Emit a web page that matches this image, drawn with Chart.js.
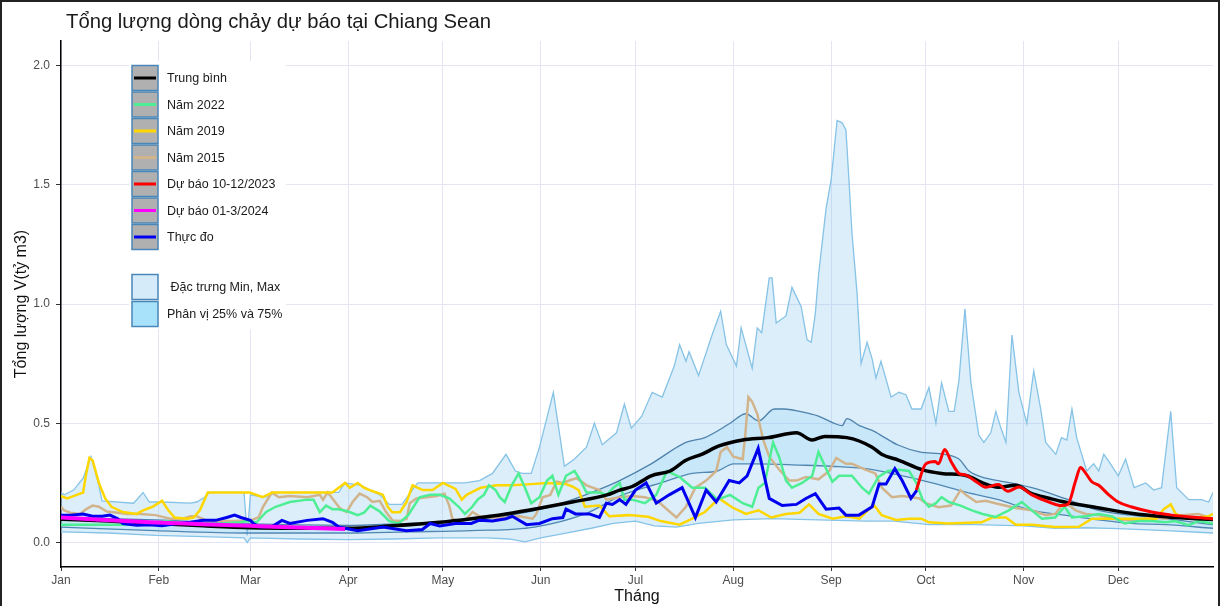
<!DOCTYPE html>
<html>
<head>
<meta charset="utf-8">
<title>Tổng lượng dòng chảy dự báo tại Chiang Sean</title>
<script src="https://cdn.jsdelivr.net/npm/chart.js@4.4.0/dist/chart.umd.min.js"></script>
<style>
    html, body { margin: 0; padding: 0; background: #fff; }
    #wrap { width: 1220px; height: 606px; position: relative; }
</style>
</head>
<body>
<div id="wrap"><canvas id="flowChart" width="1220" height="606"></canvas></div>
<script>
// Chiang Sean flow volume chart

// Axis data (day of year, leap year)
const monthStarts = [0, 31, 60, 91, 121, 152, 182, 213, 244, 274, 305, 335];
const monthLabels = ['Jan', 'Feb', 'Mar', 'Apr', 'May', 'Jun', 'Jul', 'Aug', 'Sep', 'Oct', 'Nov', 'Dec'];
const yTicks = [0, 0.5, 1.0, 1.5, 2.0];

// Series: [day, value]
const trungBinh = [[0,0.098],[15,0.09],[30,0.08],[45,0.07],[60,0.062],[75,0.06],[91,0.06],[105,0.07],[120,0.085],[130,0.1],[141,0.12],[152,0.145],[162,0.17],[173,0.2],[177,0.22],[181,0.235],[187,0.28],[193,0.3],[198,0.345],[203,0.37],[208.5,0.405],[216,0.43],[224,0.44],[233,0.46],[238,0.43],[242,0.445],[249,0.44],[257,0.4],[260,0.37],[265.5,0.345],[273,0.305],[279,0.29],[287,0.28],[292,0.25],[297,0.232],[302.5,0.24],[307.6,0.205],[313,0.186],[318,0.17],[329,0.145],[339,0.123],[350,0.108],[360,0.1],[365,0.097]];

const nam2022 = [[0,0.075],[10,0.075],[20,0.075],[30,0.078],[33,0.09],[40,0.08],[50,0.08],[57,0.085],[59,0.09],[62,0.085],[65,0.128],[68,0.15],[72.5,0.17],[78,0.18],[80,0.18],[82,0.128],[84,0.155],[86,0.14],[88,0.14],[91,0.13],[94,0.115],[96,0.125],[98,0.155],[101,0.13],[104,0.09],[107,0.08],[110,0.115],[113.6,0.19],[117,0.2],[120,0.2],[123,0.185],[126,0.15],[128,0.12],[130.3,0.15],[132,0.18],[134,0.2],[135.6,0.24],[137.7,0.22],[139,0.19],[140.6,0.17],[142.8,0.24],[145,0.29],[147,0.23],[149,0.165],[151.6,0.19],[154,0.26],[155.7,0.28],[157.6,0.2],[160,0.28],[162.7,0.3],[164.6,0.26],[166.5,0.21],[170.6,0.21],[173,0.2],[175,0.23],[177,0.25],[178.5,0.18],[181,0.18],[185,0.165],[188.6,0.2],[192,0.3],[196,0.275],[200,0.23],[204,0.23],[208,0.18],[212,0.2],[216,0.165],[219,0.15],[221,0.23],[223,0.25],[225.6,0.42],[227.5,0.36],[229.7,0.26],[231.6,0.23],[234.8,0.25],[238,0.28],[240,0.38],[242.4,0.31],[244.4,0.255],[246.5,0.28],[250.6,0.28],[253.8,0.23],[256,0.205],[259,0.275],[262,0.3],[265.5,0.305],[268.7,0.3],[271,0.25],[273,0.18],[275,0.15],[277.2,0.165],[279,0.19],[281.3,0.17],[285,0.155],[288.6,0.135],[292,0.12],[296,0.107],[300.3,0.135],[304.4,0.17],[307.6,0.135],[310.8,0.1],[315,0.105],[318,0.15],[320.3,0.105],[324.7,0.11],[328.8,0.12],[333,0.11],[337,0.08],[341.5,0.09],[345.6,0.09],[350,0.085],[353,0.09],[357.3,0.073],[360.4,0.09],[365,0.08]];

const nam2019 = [[0,0.195],[2,0.185],[5,0.2],[7,0.21],[8,0.29],[9,0.355],[10,0.345],[12,0.25],[14,0.185],[16,0.15],[19.6,0.128],[24,0.12],[26,0.135],[29,0.15],[32,0.175],[34,0.135],[36,0.105],[40,0.1],[42,0.105],[44,0.135],[46.5,0.21],[49,0.21],[57.6,0.21],[59.8,0.21],[63.9,0.19],[67,0.21],[86,0.21],[88,0.23],[90,0.25],[91.5,0.23],[94,0.25],[96,0.23],[97.8,0.22],[100,0.21],[102,0.2],[103.5,0.15],[105,0.127],[107.4,0.127],[109.5,0.17],[111.4,0.24],[114.6,0.22],[117.7,0.22],[121,0.25],[125,0.225],[127,0.18],[128.5,0.2],[133,0.23],[138,0.24],[143,0.24],[149,0.245],[154,0.25],[160,0.245],[162,0.235],[164,0.22],[166,0.15],[170.6,0.155],[173.7,0.11],[180,0.115],[186,0.108],[190,0.09],[196,0.075],[200,0.1],[204,0.128],[208.5,0.185],[212.6,0.148],[217,0.12],[221,0.135],[225,0.105],[229.7,0.12],[234,0.125],[237,0.16],[240,0.12],[244.5,0.1],[248.7,0.11],[253,0.1],[256,0.14],[257.7,0.155],[260,0.115],[264.6,0.095],[268.7,0.1],[272.6,0.1],[275,0.085],[281,0.08],[291.7,0.085],[295,0.105],[299.4,0.105],[302.5,0.075],[307.6,0.075],[315,0.065],[322.5,0.066],[326.6,0.1],[331,0.1],[339,0.1],[347,0.1],[349.4,0.14],[351.6,0.16],[353.2,0.12],[356.4,0.1],[363.6,0.11],[365,0.12]];

const nam2015 = [[0,0.15],[1,0.135],[3,0.125],[6,0.12],[8,0.14],[10,0.155],[12,0.15],[14.5,0.13],[18,0.125],[21,0.12],[25,0.12],[30,0.115],[34.5,0.1],[38.6,0.1],[41,0.11],[43,0.11],[46,0.093],[50,0.09],[55,0.09],[60,0.093],[62.6,0.105],[64,0.15],[66.8,0.21],[69,0.19],[72.5,0.195],[78,0.19],[82,0.2],[83,0.18],[84.5,0.21],[86,0.185],[88.3,0.145],[90.5,0.128],[92.4,0.17],[94.6,0.205],[97,0.19],[98.7,0.17],[101,0.175],[103,0.128],[105,0.093],[107.4,0.09],[109.5,0.1],[110.5,0.165],[112.6,0.185],[115.8,0.19],[119,0.195],[121.5,0.205],[123,0.155],[124,0.1],[126.5,0.085],[128.5,0.1],[130.4,0.128],[132.6,0.11],[136.7,0.105],[141,0.105],[145.3,0.11],[149.4,0.1],[150.6,0.12],[152.6,0.19],[155,0.2],[157,0.255],[159,0.25],[161,0.26],[163.4,0.27],[166.5,0.24],[170.6,0.22],[172.8,0.18],[176.9,0.19],[181,0.195],[185,0.19],[189,0.175],[191.5,0.145],[195,0.105],[198,0.15],[201,0.23],[204.4,0.26],[207.6,0.3],[209,0.38],[211,0.4],[213,0.36],[216,0.35],[216.8,0.45],[217.8,0.61],[219,0.59],[220.6,0.54],[222.5,0.43],[224.4,0.36],[227.6,0.305],[230.7,0.26],[233,0.26],[236,0.275],[240,0.265],[243.4,0.3],[245.6,0.355],[248.7,0.33],[250.6,0.33],[255,0.305],[258,0.29],[260.1,0.23],[263.3,0.19],[266.5,0.195],[269.6,0.19],[272,0.185],[274,0.165],[278,0.148],[282,0.155],[285,0.22],[286.7,0.2],[290,0.17],[293,0.175],[296,0.165],[302.5,0.145],[307.6,0.135],[312,0.115],[315,0.12],[318,0.17],[321.5,0.135],[324.7,0.12],[328.8,0.115],[333,0.1],[339,0.093],[345.6,0.105],[350,0.1],[355,0.115],[360.4,0.12],[365,0.1]];

const duBao2023 = [[271,0.22],[274,0.33],[277,0.34],[278,0.33],[280,0.39],[282,0.34],[284.5,0.29],[286.7,0.283],[290,0.255],[293,0.232],[297,0.243],[300,0.215],[303.5,0.233],[307.6,0.2],[313,0.17],[317,0.155],[319,0.16],[321.5,0.26],[323,0.315],[324.7,0.29],[326.6,0.255],[328.8,0.24],[332,0.2],[335,0.17],[339,0.15],[345.6,0.128],[352,0.115],[358,0.107],[365,0.1]];

const duBao2024 = [[0,0.105],[14,0.095],[28,0.085],[45,0.077],[60,0.07],[75,0.063],[90,0.057]];

const thucDo = [[0,0.115],[3,0.115],[7,0.12],[10,0.11],[13,0.11],[15.5,0.115],[18,0.1],[19.6,0.08],[24,0.073],[28,0.075],[32,0.07],[37,0.08],[41,0.085],[45,0.093],[49,0.093],[52.5,0.105],[55,0.115],[57,0.105],[60,0.093],[61,0.08],[63,0.065],[67,0.068],[70,0.093],[72.5,0.08],[78,0.093],[83,0.1],[86,0.085],[88,0.065],[94,0.05],[102,0.065],[109.5,0.05],[114.5,0.055],[117,0.08],[120,0.07],[125,0.08],[130,0.08],[132.6,0.094],[136.7,0.09],[141,0.1],[143,0.11],[147.5,0.075],[151.6,0.08],[155.7,0.1],[159,0.105],[160,0.14],[163,0.12],[167.4,0.12],[170.6,0.105],[172.8,0.165],[174.7,0.16],[177,0.18],[179,0.16],[182,0.22],[185.4,0.25],[188.6,0.165],[192.7,0.2],[196.8,0.23],[201,0.105],[204.4,0.22],[207.6,0.17],[211.7,0.26],[214.9,0.25],[217.4,0.28],[220.9,0.395],[224.4,0.185],[228.5,0.155],[233,0.16],[236,0.185],[239,0.205],[242.4,0.14],[246.5,0.145],[248.7,0.115],[252.8,0.115],[257,0.15],[259.2,0.245],[261.4,0.245],[264.2,0.31],[266.5,0.26],[269.3,0.185],[271.2,0.22]];

const bandMax = [[0,0.21],[1,0.2],[4,0.22],[7,0.27],[9.5,0.36],[12,0.24],[13,0.175],[23,0.165],[26,0.21],[28,0.17],[32,0.17],[41,0.165],[43,0.17],[45.5,0.19],[47,0.21],[58,0.21],[59,0.03],[60,0.2],[64.5,0.19],[68,0.21],[88,0.21],[90,0.25],[95,0.24],[101,0.2],[104,0.16],[108,0.16],[113,0.25],[120,0.25],[128,0.25],[132.6,0.26],[136.7,0.29],[141,0.37],[144,0.3],[146,0.29],[149,0.29],[151.6,0.4],[156,0.63],[159.5,0.32],[162.7,0.35],[166.5,0.4],[169,0.5],[171.5,0.41],[176,0.46],[178.5,0.58],[180.7,0.48],[184,0.53],[187.3,0.63],[190.5,0.61],[194.3,0.74],[196,0.83],[198,0.76],[199,0.8],[202,0.7],[206,0.86],[209,0.97],[210.8,0.83],[214,0.74],[215.5,0.9],[219,0.73],[220.6,0.9],[222,0.88],[224.4,1.11],[225.3,1.11],[226.6,0.92],[229.7,0.95],[231.6,1.07],[234.5,0.99],[236.4,0.85],[237.7,0.84],[239,0.96],[240,1.12],[242.4,1.4],[244,1.52],[245.9,1.77],[247.5,1.76],[248.7,1.73],[249.7,1.51],[250.6,1.3],[252.2,1.05],[253.5,0.75],[255.4,0.84],[257,0.77],[258.2,0.69],[259.8,0.76],[263,0.61],[265.5,0.63],[267.7,0.62],[269.6,0.56],[272.5,0.56],[275,0.65],[277.2,0.5],[279,0.67],[281.3,0.55],[283,0.55],[284.5,0.68],[286.4,0.98],[288.3,0.67],[290.8,0.45],[292.4,0.42],[294.6,0.46],[296.2,0.55],[297.8,0.48],[299.4,0.42],[301.3,0.87],[303.5,0.63],[306,0.5],[308.2,0.72],[310.4,0.56],[312,0.42],[315.2,0.37],[317,0.44],[318.7,0.43],[320.3,0.56],[321.8,0.44],[325,0.3],[327.2,0.33],[328.8,0.3],[330.4,0.37],[332,0.34],[335,0.28],[337.3,0.35],[340,0.23],[343.7,0.25],[346.2,0.22],[348.7,0.23],[351.6,0.55],[353.5,0.23],[357.3,0.18],[361.4,0.18],[363.6,0.17],[365,0.21]];

const bandMin = [[0,0.045],[15,0.04],[30,0.03],[45,0.025],[58,0.02],[59,0.0],[60,0.02],[75,0.015],[91,0.012],[105,0.015],[120,0.02],[135,0.02],[142,0.015],[147,0.003],[152,0.02],[160,0.04],[168,0.06],[175,0.08],[182,0.09],[188,0.07],[195,0.065],[202,0.08],[213,0.095],[225,0.1],[240,0.095],[255,0.09],[264,0.09],[275,0.075],[290,0.075],[305,0.07],[315,0.06],[325,0.062],[335,0.058],[350,0.05],[365,0.04]];

const phanVi75 = [[0,0.105],[30,0.095],[60,0.078],[91,0.072],[110,0.08],[125,0.09],[140,0.11],[152,0.14],[162,0.18],[170,0.22],[177,0.26],[187,0.33],[198,0.42],[204,0.44],[212,0.5],[217,0.54],[221,0.51],[226,0.56],[229,0.56],[234,0.55],[240,0.53],[245,0.5],[247.5,0.49],[249,0.52],[253,0.49],[257,0.47],[261,0.44],[265,0.41],[272,0.38],[280,0.37],[284.5,0.35],[287.7,0.3],[293,0.27],[297,0.26],[307.6,0.23],[318,0.185],[328.8,0.135],[339,0.115],[350,0.1],[365,0.075]];

const phanVi25 = [[0,0.065],[30,0.05],[60,0.04],[91,0.04],[110,0.045],[130,0.05],[150,0.065],[166,0.12],[178,0.2],[190,0.25],[200,0.29],[208,0.3],[213,0.33],[221,0.33],[234,0.325],[244,0.32],[255,0.31],[265,0.285],[276,0.25],[287,0.21],[297,0.18],[307.6,0.135],[318,0.115],[328.8,0.095],[339,0.08],[350,0.075],[365,0.06]];

const FONT = '"Liberation Sans", Arial, sans-serif';

function toPoints(list) {
    return list.map(p => ({ x: p[0], y: p[1] }));
}

function lineSet(label, list, color, width, order, smooth) {
    return {
        label: label,
        data: toPoints(list),
        borderColor: color,
        backgroundColor: color,
        borderWidth: width,
        pointRadius: 0,
        fill: false,
        order: order,
        tension: 0,
        cubicInterpolationMode: smooth ? 'monotone' : 'default',
        isSeries: true
    };
}

// Title, frame and legend drawn on the canvas
const decorPlugin = {
    id: 'decor',
    afterDraw(chart) {
        const ctx = chart.ctx;
        ctx.save();

        // frame
        ctx.strokeStyle = '#222';
        ctx.lineWidth = 2;
        ctx.strokeRect(1, 1, 1218, 620);

        // title
        ctx.fillStyle = '#1a1a1a';
        ctx.font = '20.3px ' + FONT;
        ctx.textBaseline = 'middle';
        ctx.textAlign = 'left';
        ctx.fillText('Tổng lượng dòng chảy dự báo tại Chiang Sean', 66, 22);

        // legend
        ctx.fillStyle = '#ffffff';
        ctx.fillRect(129, 61, 157, 268);

        const series = chart.data.datasets.filter(d => d.isSeries);
        const legendOrder = ['Trung bình', 'Năm 2022', 'Năm 2019', 'Năm 2015', 'Dự báo 10-12/2023', 'Dự báo 01-3/2024', 'Thực đo'];
        ctx.font = '12.5px ' + FONT;
        legendOrder.forEach((name, i) => {
            const ds = series.find(d => d.label === name);
            const cy = 78 + i * 26.5;
            ctx.fillStyle = '#b0b0b0';
            ctx.fillRect(132, cy - 12.5, 26, 25);
            ctx.strokeStyle = '#4a86b8';
            ctx.lineWidth = 1.5;
            ctx.strokeRect(132, cy - 12.5, 26, 25);
            ctx.strokeStyle = ds.borderColor;
            ctx.lineWidth = 3;
            ctx.beginPath();
            ctx.moveTo(134, cy);
            ctx.lineTo(156, cy);
            ctx.stroke();
            ctx.fillStyle = '#1a1a1a';
            ctx.fillText(name, 167, cy + 1);
        });

        const bands = [
            { name: ' Đặc trưng Min, Max', fill: '#d5ebfa', y: 287 },
            { name: 'Phân vị 25% và 75%', fill: '#a8e2fa', y: 314 }
        ];
        bands.forEach(b => {
            ctx.fillStyle = b.fill;
            ctx.fillRect(132, b.y - 12.5, 26, 25);
            ctx.strokeStyle = '#4a86b8';
            ctx.lineWidth = 1.5;
            ctx.strokeRect(132, b.y - 12.5, 26, 25);
            ctx.fillStyle = '#1a1a1a';
            ctx.fillText(b.name, 167, b.y + 1);
        });

        ctx.restore();
    }
};

function initializeFlowChart() {
    const ctx = document.getElementById('flowChart');

    const datasets = [
        lineSet('Dự báo 01-3/2024', duBao2024, '#ff00ff', 4, 0, true),
        lineSet('Dự báo 10-12/2023', duBao2023, '#ff0000', 3, 1, true),
        lineSet('Thực đo', thucDo, '#0000ee', 3, 2, false),
        lineSet('Trung bình', trungBinh, '#000000', 3.5, 3, true),
        lineSet('Năm 2022', nam2022, '#4eee94', 2.5, 4, false),
        lineSet('Năm 2019', nam2019, '#ffd700', 2.5, 5, false),
        lineSet('Năm 2015', nam2015, '#d2b48c', 2.5, 6, false),
        {
            label: 'max',
            data: toPoints(bandMax),
            borderColor: '#86c3e6',
            borderWidth: 1.3,
            backgroundColor: 'rgba(135,200,240,0.30)',
            pointRadius: 0,
            fill: '+1',
            order: 10
        },
        {
            label: 'min',
            data: toPoints(bandMin),
            borderColor: '#86c3e6',
            borderWidth: 1.3,
            pointRadius: 0,
            fill: false,
            order: 10
        },
        {
            label: 'p75',
            data: toPoints(phanVi75),
            borderColor: '#4f83ad',
            borderWidth: 1.3,
            backgroundColor: 'rgba(100,190,240,0.16)',
            pointRadius: 0,
            fill: '+1',
            order: 9,
            cubicInterpolationMode: 'monotone'
        },
        {
            label: 'p25',
            data: toPoints(phanVi25),
            borderColor: '#4f83ad',
            borderWidth: 1.3,
            pointRadius: 0,
            fill: false,
            order: 9,
            cubicInterpolationMode: 'monotone'
        }
    ];

    new Chart(ctx, {
        type: 'line',
        data: { datasets: datasets },
        options: {
            responsive: false,
            animation: false,
            parsing: true,
            layout: { padding: { left: 0, right: 7, top: 41, bottom: 0 } },
            plugins: {
                legend: { display: false },
                tooltip: { enabled: false },
                title: { display: false }
            },
            scales: {
                x: {
                    type: 'linear',
                    min: 0,
                    max: 365,
                    afterBuildTicks: s => { s.ticks = monthStarts.map(v => ({ value: v })); },
                    afterFit: s => { s.height = 39; },
                    ticks: {
                        callback: v => monthLabels[monthStarts.indexOf(v)],
                        color: '#4d4d4d',
                        font: { family: FONT, size: 12 },
                        maxRotation: 0,
                        autoSkip: false,
                        padding: 2
                    },
                    grid: { color: '#e4e4f4', lineWidth: 1, tickColor: '#333', tickLength: 4 },
                    border: { color: '#000', width: 1.5 },
                    title: {
                        display: true,
                        text: 'Tháng',
                        color: '#111',
                        font: { family: FONT, size: 16 },
                        padding: { top: 0, bottom: 0 }
                    }
                },
                y: {
                    min: -0.1025,
                    max: 2.103,
                    afterBuildTicks: s => { s.ticks = yTicks.map(v => ({ value: v })); },
                    afterFit: s => { s.width = 61; },
                    ticks: {
                        callback: v => v.toFixed(1),
                        color: '#4d4d4d',
                        font: { family: FONT, size: 12 },
                        padding: 6
                    },
                    grid: { color: '#e4e4f4', lineWidth: 1, tickColor: '#333', tickLength: 5 },
                    border: { color: '#000', width: 1.5 },
                    title: {
                        display: true,
                        text: 'Tổng lượng V(tỷ m3)',
                        color: '#111',
                        font: { family: FONT, size: 16 },
                        padding: { top: 12, bottom: 0 }
                    }
                }
            }
        },
        plugins: [decorPlugin]
    });
}

document.addEventListener('DOMContentLoaded', initializeFlowChart);
</script>
</body>
</html>
